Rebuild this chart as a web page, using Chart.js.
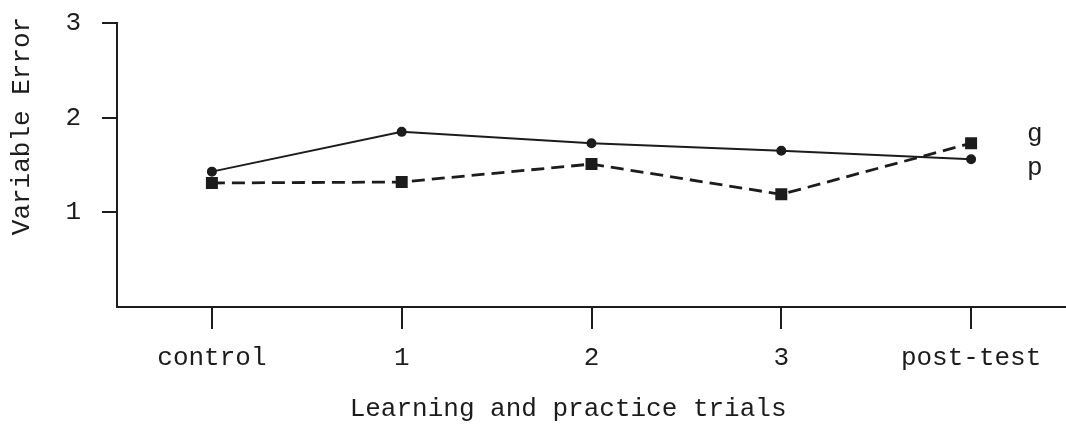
<!DOCTYPE html>
<html>
<head>
<meta charset="utf-8">
<script src="https://cdn.jsdelivr.net/npm/chart.js@4"></script>
<style>
html,body{margin:0;padding:0;background:#fff;}
#wrap{width:1066px;height:425px;}
</style>
</head>
<body>
<div id="wrap"><canvas id="chartVE"></canvas></div>
<script>

/* DATA */

let trials = ["control","1","2","3","post-test"];

let seriesP = [1.43,1.85,1.73,1.65,1.56];   // solid line
let seriesG = [1.31,1.32,1.51,1.19,1.73];   // dashed line

let yTickValues = [1,2,3];

let ink = "#1c1c1c";
let fontFamily = "'Liberation Mono','Courier New',monospace";

/* end labels g / p */

let endLabels = {
id:"endLabels",
afterDatasetsDraw(chart){
let ctx = chart.ctx;
ctx.save();
ctx.fillStyle = ink;
ctx.font = "26px " + fontFamily;
ctx.textAlign = "left";
ctx.textBaseline = "middle";
chart.data.datasets.forEach((ds,i)=>{
let meta = chart.getDatasetMeta(i);
let last = meta.data[meta.data.length-1];
ctx.fillText(ds.label, last.x + 56, last.y + ds.labelShift);
});
ctx.restore();
}
};

/* GRAPH */

new Chart(document.getElementById("chartVE"),{

type:"line",

data:{
labels:trials,
datasets:[
{
label:"p",
data:seriesP,
borderColor:ink,
backgroundColor:ink,
borderWidth:2,
pointStyle:"circle",
pointRadius:4,
tension:0,
labelShift:9
},
{
label:"g",
data:seriesG,
borderColor:ink,
backgroundColor:ink,
borderWidth:2.8,
borderDash:[13,7],
pointStyle:"rect",
pointRadius:6.5,
tension:0,
labelShift:-9
}
]
},

plugins:[endLabels],

options:{
responsive:true,
maintainAspectRatio:false,
animation:false,
layout:{autoPadding:false,padding:{top:23,right:0,left:0,bottom:0}},

plugins:{
legend:{display:false},
tooltip:{enabled:false}
},

scales:{

x:{
offset:true,
border:{display:true,color:ink,width:2},
grid:{drawOnChartArea:false,drawTicks:true,tickLength:22,color:ink,lineWidth:2},
ticks:{color:ink,font:{family:fontFamily,size:26},padding:14,maxRotation:0},
title:{
display:true,
text:"Learning and practice trials   ",
color:ink,
font:{family:fontFamily,size:26},
padding:{top:6,bottom:0}
},
afterFit(scale){
scale.height=118;
scale.paddingLeft=0;
scale.paddingRight=0;
}
},

y:{
min:0,
max:3,
afterBuildTicks(scale){scale.ticks = yTickValues.map(v=>({value:v}));},
border:{display:true,color:ink,width:2},
grid:{drawOnChartArea:false,drawTicks:true,tickLength:15,color:ink,lineWidth:2},
ticks:{color:ink,font:{family:fontFamily,size:26},padding:21},
title:{
display:true,
text:"     Variable Error",
color:ink,
font:{family:fontFamily,size:26},
padding:{top:7,bottom:0}
},
afterFit(scale){
scale.width=117;
scale.paddingTop=0;
scale.paddingBottom=0;
}
}

}

}

});

</script>
</body>
</html>
